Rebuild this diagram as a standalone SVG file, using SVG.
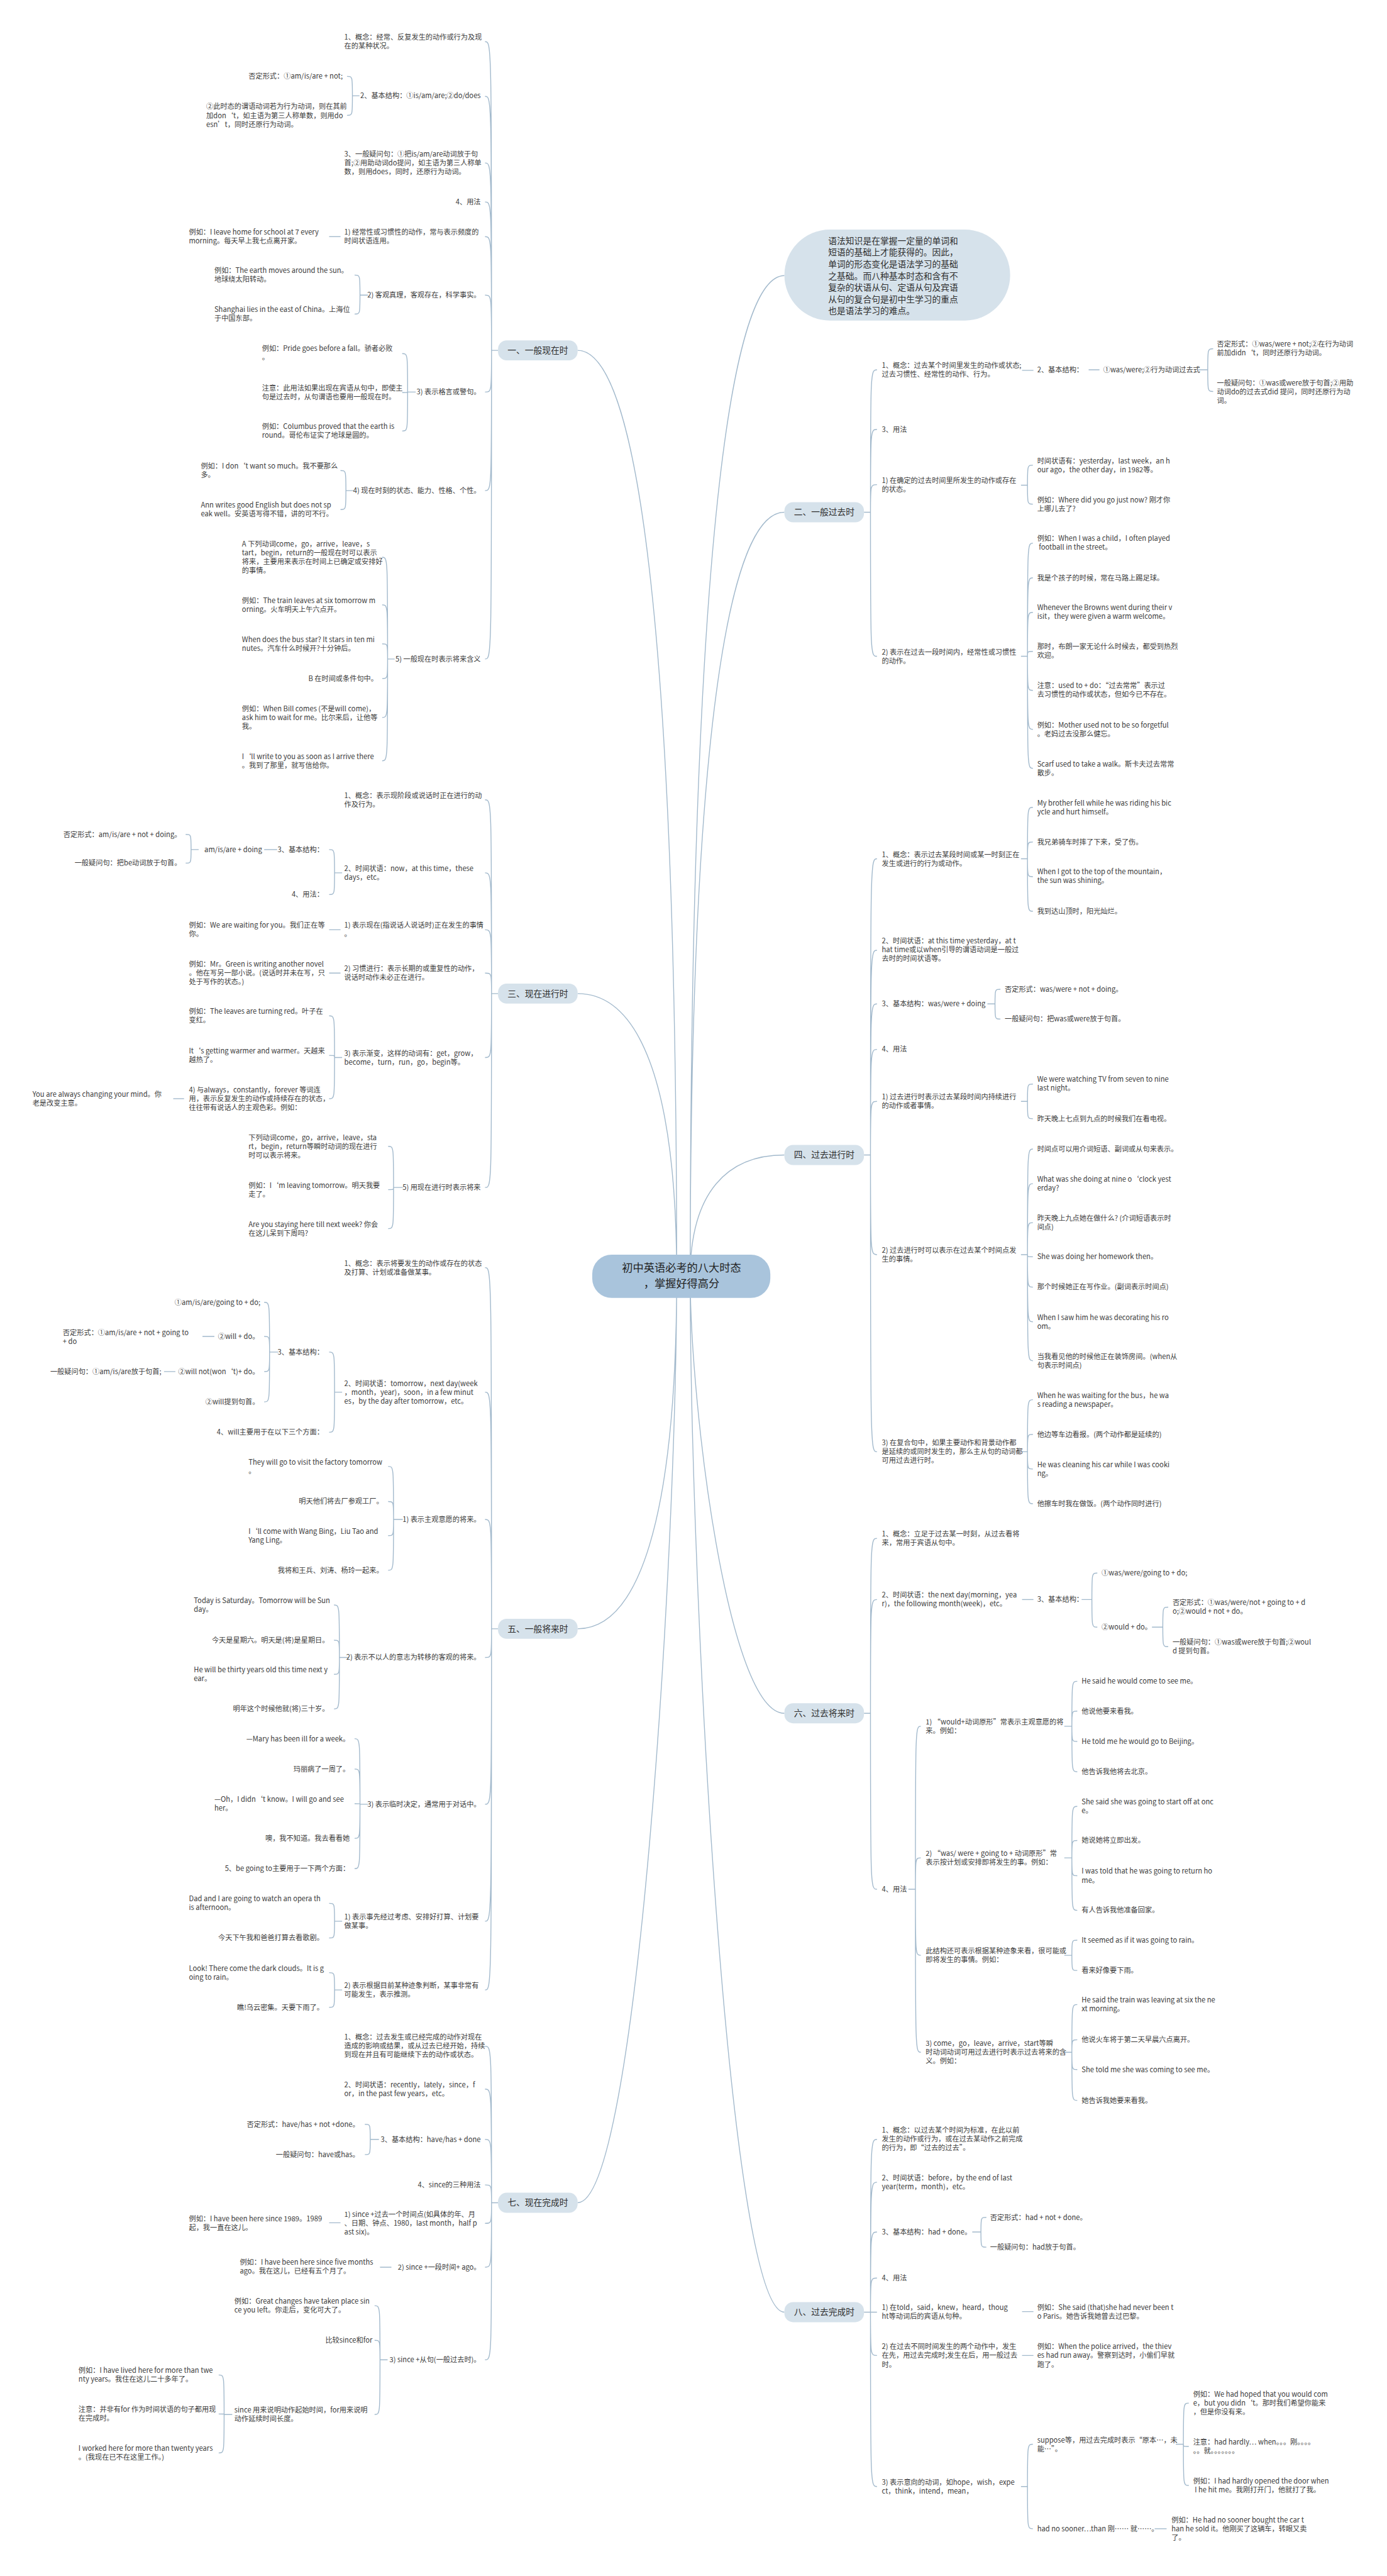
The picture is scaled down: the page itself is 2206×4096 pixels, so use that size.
<svg xmlns="http://www.w3.org/2000/svg" width="2206" height="4096" viewBox="0 0 2206 4096">
<style>
text{font-family:"Noto Sans CJK SC","Liberation Sans",sans-serif;font-size:13px;fill:#3b3b3b}
.e{text-anchor:end}
.h{font-size:16px;fill:#2f2f2f;text-anchor:middle}
.ct{font-size:20px;fill:#222;text-anchor:middle}
.in{font-size:16px;fill:#2f2f2f}
.c{fill:none;stroke:#a2b9cc;stroke-width:1.6}
.n{fill:#d6e2eb}
.cn{fill:#a9c4dc}
</style>
<rect width="2206" height="4096" fill="#ffffff"/>
<g transform="scale(0.861)">
<g id="connectors" class="c">
<path d="M1250,2357C1250,1160 1177,647 1067,647M1250,2357C1250,1992 1177,1835 1067,1835M1250,2357C1250,2813 1177,3008 1067,3008M1250,2357C1250,2870 1177,4068 1067,4068"/>
<path d="M1275,2357C1275,1063 1345,509 1449,509M1275,2357C1275,1369 1345,946 1449,946M1275,2357C1275,2200 1345,2133 1449,2133M1275,2357C1275,2599 1345,3164 1449,3164M1275,2357C1275,2931 1345,4270 1449,4270"/>
<path d="M920,647H908C908,77 908,77 896,77M920,647H908C908,178 908,178 896,178M920,647H908C908,301 908,301 896,301M920,647H908C908,373 908,373 896,373M920,647H908C908,437 908,437 896,437M920,647H908C908,545 908,545 896,545M920,647H908C908,724 908,724 896,724M920,647H908C908,906 908,906 896,906M920,647H908C908,1217 908,1217 896,1217"/>
<path d="M920,1835H908C908,1477 908,1477 896,1477M920,1835H908C908,1612 908,1612 896,1612M920,1835H908C908,1717 908,1717 896,1717M920,1835H908C908,1797 908,1797 896,1797M920,1835H908C908,1953 908,1953 896,1953M920,1835H908C908,2193 908,2193 896,2193"/>
<path d="M920,3008H908C908,2341 908,2341 896,2341M920,3008H908C908,2571 908,2571 896,2571M920,3008H908C908,2806 908,2806 896,2806M920,3008H908C908,3061 908,3061 896,3061M920,3008H908C908,3332 908,3332 896,3332M920,3008H908C908,3548 908,3548 896,3548M920,3008H908C908,3675 908,3675 896,3675"/>
<path d="M920,4068H908C908,3779 908,3779 896,3779M920,4068H908C908,3858 908,3858 896,3858M920,4068H908C908,3951 908,3951 896,3951M920,4068H908C908,4035 908,4035 896,4035M920,4068H908C908,4106 908,4106 896,4106M920,4068H908C908,4187 908,4187 896,4187M920,4068H908C908,4358 908,4358 896,4358"/>
<path d="M664,177H651C651,141 651,141 641,141M664,177H651C651,213 651,213 641,213"/>
<path d="M629,437H608"/>
<path d="M680,545H665C665,508 665,508 655,508M680,545H665C665,580 665,580 655,580"/>
<path d="M768,724H753C753,653 753,653 743,653M768,724H753C753,725 753,725 743,725M768,724H753C753,796 753,796 743,796"/>
<path d="M654,906H639C639,869 639,869 629,869M654,906H639C639,941 639,941 629,941"/>
<path d="M729,1217H716C716,1029 716,1029 706,1029M729,1217H716C716,1117 716,1117 706,1117M729,1217H716C716,1189 716,1189 706,1189M729,1217H716C716,1253 716,1253 706,1253M729,1217H716C716,1325 716,1325 706,1325M729,1217H716C716,1405 716,1405 706,1405"/>
<path d="M632,1612H618C618,1569 618,1569 608,1569M632,1612H618C618,1652 618,1652 608,1652"/>
<path d="M512,1569H488"/>
<path d="M367,1569H353C353,1541 353,1541 343,1541M367,1569H353C353,1594 353,1594 343,1594"/>
<path d="M629,1717H608M629,1797H608"/>
<path d="M632,1953H618C618,1876 618,1876 608,1876M632,1953H618C618,1949 618,1949 608,1949M632,1953H618C618,2029 618,2029 608,2029"/>
<path d="M340,2029H320"/>
<path d="M744,2193H727C727,2117 727,2117 717,2117M744,2193H727C727,2197 727,2197 717,2197M744,2193H727C727,2269 727,2269 717,2269"/>
<path d="M632,2571H618C618,2497 618,2497 608,2497M632,2571H618C618,2645 618,2645 608,2645"/>
<path d="M514,2497H498C498,2405 498,2405 488,2405M514,2497H498C498,2468 498,2468 488,2468M514,2497H498C498,2533 498,2533 488,2533M514,2497H498C498,2589 498,2589 488,2589"/>
<path d="M396,2468H374M324,2533H303"/>
<path d="M744,2806H727C727,2708 727,2708 717,2708M744,2806H727C727,2773 727,2773 717,2773M744,2806H727C727,2836 727,2836 717,2836M744,2806H727C727,2900 727,2900 717,2900"/>
<path d="M643,3061H627C627,2964 627,2964 617,2964M643,3061H627C627,3029 627,3029 617,3029M643,3061H627C627,3092 627,3092 617,3092M643,3061H627C627,3156 627,3156 617,3156"/>
<path d="M680,3332H665C665,3211 665,3211 655,3211M680,3332H665C665,3267 665,3267 655,3267M680,3332H665C665,3331 665,3331 655,3331M680,3332H665C665,3395 665,3395 655,3395M680,3332H665C665,3451 665,3451 655,3451"/>
<path d="M632,3548H618C618,3515 618,3515 608,3515M632,3548H618C618,3579 618,3579 608,3579"/>
<path d="M632,3675H618C618,3643 618,3643 608,3643M632,3675H618C618,3707 618,3707 608,3707"/>
<path d="M700,3951H684C684,3923 684,3923 674,3923M700,3951H684C684,3979 684,3979 674,3979"/>
<path d="M629,4105H608M723,4187H702"/>
<path d="M716,4358H702C702,4258 702,4258 692,4258M716,4358H702C702,4322 702,4322 692,4322M716,4358H702C702,4459 702,4459 692,4459"/>
<path d="M429,4459H414C414,4386 414,4386 404,4386M429,4459H414C414,4458 414,4458 404,4458M429,4459H414C414,4530 414,4530 404,4530"/>
<path d="M1596,946H1608C1608,683 1608,683 1620,683M1596,946H1608C1608,793 1608,793 1620,793M1596,946H1608C1608,895 1608,895 1620,895M1596,946H1608C1608,1212 1608,1212 1620,1212"/>
<path d="M1596,2133H1608C1608,1586 1608,1586 1620,1586M1596,2133H1608C1608,1755 1608,1755 1620,1755M1596,2133H1608C1608,1854 1608,1854 1620,1854M1596,2133H1608C1608,1938 1608,1938 1620,1938M1596,2133H1608C1608,2034 1608,2034 1620,2034M1596,2133H1608C1608,2317 1608,2317 1620,2317M1596,2133H1608C1608,2681 1608,2681 1620,2681"/>
<path d="M1596,3164H1608C1608,2841 1608,2841 1620,2841M1596,3164H1608C1608,2954 1608,2954 1620,2954M1596,3164H1608C1608,3489 1608,3489 1620,3489"/>
<path d="M1596,4270H1608C1608,3951 1608,3951 1620,3951M1596,4270H1608C1608,4030 1608,4030 1620,4030M1596,4270H1608C1608,4122 1608,4122 1620,4122M1596,4270H1608C1608,4207 1608,4207 1620,4207M1596,4270H1608C1608,4270 1608,4270 1620,4270M1596,4270H1608C1608,4350 1608,4350 1620,4350M1596,4270H1608C1608,4592 1608,4592 1620,4592"/>
<path d="M1888,684H1909M2011,683H2031"/>
<path d="M2214,683H2231C2231,644 2231,644 2241,644M2214,683H2231C2231,723 2231,723 2241,723"/>
<path d="M1886,896H1898C1898,859 1898,859 1908,859M1886,896H1898C1898,931 1898,931 1908,931"/>
<path d="M1886,1212H1898C1898,1003 1898,1003 1908,1003M1886,1212H1898C1898,1067 1898,1067 1908,1067M1886,1212H1898C1898,1131 1898,1131 1908,1131M1886,1212H1898C1898,1203 1898,1203 1908,1203M1886,1212H1898C1898,1275 1898,1275 1908,1275M1886,1212H1898C1898,1347 1898,1347 1908,1347M1886,1212H1898C1898,1419 1898,1419 1908,1419"/>
<path d="M1886,1586H1898C1898,1491 1898,1491 1908,1491M1886,1586H1898C1898,1555 1898,1555 1908,1555M1886,1586H1898C1898,1619 1898,1619 1908,1619M1886,1586H1898C1898,1683 1898,1683 1908,1683"/>
<path d="M1824,1854H1838C1838,1827 1838,1827 1848,1827M1824,1854H1838C1838,1882 1838,1882 1848,1882"/>
<path d="M1886,2034H1898C1898,2002 1898,2002 1908,2002M1886,2034H1898C1898,2066 1898,2066 1908,2066"/>
<path d="M1886,2317H1898C1898,2122 1898,2122 1908,2122M1886,2317H1898C1898,2186 1898,2186 1908,2186M1886,2317H1898C1898,2258 1898,2258 1908,2258M1886,2317H1898C1898,2321 1898,2321 1908,2321M1886,2317H1898C1898,2377 1898,2377 1908,2377M1886,2317H1898C1898,2441 1898,2441 1908,2441M1886,2317H1898C1898,2513 1898,2513 1908,2513"/>
<path d="M1886,2681H1898C1898,2585 1898,2585 1908,2585M1886,2681H1898C1898,2649 1898,2649 1908,2649M1886,2681H1898C1898,2713 1898,2713 1908,2713M1886,2681H1898C1898,2777 1898,2777 1908,2777"/>
<path d="M1888,2954H1909"/>
<path d="M1998,2954H2017C2017,2905 2017,2905 2027,2905M1998,2954H2017C2017,3005 2017,3005 2027,3005"/>
<path d="M2128,3005H2148C2148,2968 2148,2968 2158,2968M2128,3005H2148C2148,3041 2148,3041 2158,3041"/>
<path d="M1678,3489H1691C1691,3188 1691,3188 1701,3188M1678,3489H1691C1691,3431 1691,3431 1701,3431M1678,3489H1691C1691,3611 1691,3611 1701,3611M1678,3489H1691C1691,3790 1691,3790 1701,3790"/>
<path d="M1966,3188H1980C1980,3105 1980,3105 1990,3105M1966,3188H1980C1980,3160 1980,3160 1990,3160M1966,3188H1980C1980,3216 1980,3216 1990,3216M1966,3188H1980C1980,3272 1980,3272 1990,3272"/>
<path d="M1966,3431H1980C1980,3336 1980,3336 1990,3336M1966,3431H1980C1980,3399 1980,3399 1990,3399M1966,3431H1980C1980,3464 1980,3464 1990,3464M1966,3431H1980C1980,3528 1980,3528 1990,3528"/>
<path d="M1966,3611H1980C1980,3583 1980,3583 1990,3583M1966,3611H1980C1980,3639 1980,3639 1990,3639"/>
<path d="M1966,3790H1980C1980,3702 1980,3702 1990,3702M1966,3790H1980C1980,3767 1980,3767 1990,3767M1966,3790H1980C1980,3822 1980,3822 1990,3822M1966,3790H1980C1980,3879 1980,3879 1990,3879"/>
<path d="M1796,4122H1812C1812,4095 1812,4095 1822,4095M1796,4122H1812C1812,4150 1812,4150 1822,4150"/>
<path d="M1888,4269H1909M1888,4350H1909"/>
<path d="M1886,4592H1898C1898,4514 1898,4514 1908,4514M1886,4592H1898C1898,4670 1898,4670 1908,4670"/>
<path d="M2172,4514H2186C2186,4438 2186,4438 2196,4438M2172,4514H2186C2186,4518 2186,4518 2196,4518M2172,4514H2186C2186,4590 2186,4590 2196,4590"/>
<path d="M2133,4670H2155"/>
</g>
<g id="center"><rect class="cn" x="1094" y="2317" width="329" height="80" rx="36"/><text class="ct" x="1259" y="2349">初中英语必考的八大时态</text><text class="ct" x="1259" y="2378">，掌握好得高分</text></g>
<g id="intro"><rect class="n" x="1449" y="424" width="417" height="168" rx="84"/><text class="in" x="1530" y="450.5">语法知识是在掌握一定量的单词和<tspan x="1530" dy="21.6">短语的基础上才能获得的。因此，</tspan><tspan x="1530" dy="21.6">单词的形态变化是语法学习的基础</tspan><tspan x="1530" dy="21.6">之基础。而八种基本时态和含有不</tspan><tspan x="1530" dy="21.6">复杂的状语从句、定语从句及宾语</tspan><tspan x="1530" dy="21.6">从句的复合句是初中生学习的重点</tspan><tspan x="1530" dy="21.6">也是语法学习的难点。</tspan></text></g>
<g id="t1"><rect class="n" x="920" y="628.5" width="147" height="37" rx="16"/><text class="h" x="993.5" y="652.5">一、一般现在时</text></g>
<g id="t3"><rect class="n" x="920" y="1816.5" width="147" height="37" rx="16"/><text class="h" x="993.5" y="1840.5">三、现在进行时</text></g>
<g id="t5"><rect class="n" x="920" y="2989.5" width="147" height="37" rx="16"/><text class="h" x="993.5" y="3013.5">五、一般将来时</text></g>
<g id="t7"><rect class="n" x="920" y="4049.5" width="147" height="37" rx="16"/><text class="h" x="993.5" y="4073.5">七、现在完成时</text></g>
<g id="t2"><rect class="n" x="1449" y="927.5" width="147" height="37" rx="16"/><text class="h" x="1522.5" y="951.5">二、一般过去时</text></g>
<g id="t4"><rect class="n" x="1449" y="2114.5" width="147" height="37" rx="16"/><text class="h" x="1522.5" y="2138.5">四、过去进行时</text></g>
<g id="t6"><rect class="n" x="1449" y="3145.5" width="147" height="37" rx="16"/><text class="h" x="1522.5" y="3169.5">六、过去将来时</text></g>
<g id="t8"><rect class="n" x="1449" y="4251.5" width="147" height="37" rx="16"/><text class="h" x="1522.5" y="4275.5">八、过去完成时</text></g>

<g id="a1"><text x="636" y="73.5">1、概念：经常、反复发生的动作或行为及现<tspan x="636" dy="16.3">在的某种状况。</tspan></text></g>
<g id="a2"><text class="e" x="888" y="181.5">2、基本结构：①is/am/are;②do/does</text></g>
<g id="a2a"><text class="e" x="633" y="145.5">否定形式：①am/is/are + not;</text></g>
<g id="a2b"><text x="381" y="201.5">②此时态的谓语动词若为行为动词，则在其前<tspan x="381" dy="16.3">加don‘t，如主语为第三人称单数，则用do</tspan><tspan x="381" dy="16.3">esn’t，同时还原行为动词。</tspan></text></g>
<g id="a3"><text x="636" y="289.5">3、一般疑问句：①把is/am/are动词放于句<tspan x="636" dy="16.3">首;②用助动词do提问，如主语为第三人称单</tspan><tspan x="636" dy="16.3">数，则用does，同时，还原行为动词。</tspan></text></g>
<g id="a4"><text class="e" x="888" y="377.5">4、用法</text></g>
<g id="a5"><text x="636" y="433.5">1) 经常性或习惯性的动作，常与表示频度的<tspan x="636" dy="16.3">时间状语连用。</tspan></text></g>
<g id="a5a"><text x="349" y="433.5">例如：I leave home for school at 7 every<tspan x="349" dy="16.3">morning。每天早上我七点离开家。</tspan></text></g>
<g id="a6"><text class="e" x="888" y="549.5">2) 客观真理，客观存在，科学事实。</text></g>
<g id="a6a"><text x="396" y="504.5">例如：The earth moves around the sun。<tspan x="396" dy="16.3">地球绕太阳转动。</tspan></text></g>
<g id="a6b"><text x="396" y="576.5">Shanghai lies in the east of China。上海位<tspan x="396" dy="16.3">于中国东部。</tspan></text></g>
<g id="a7"><text class="e" x="888" y="728.5">3) 表示格言或警句。</text></g>
<g id="a7a"><text x="484" y="648.5">例如：Pride goes before a fall。骄者必败<tspan x="484" dy="16.3">。</tspan></text></g>
<g id="a7b"><text x="484" y="721.5">注意：此用法如果出现在宾语从句中，即使主<tspan x="484" dy="16.3">句是过去时，从句谓语也要用一般现在时。</tspan></text></g>
<g id="a7c"><text x="484" y="792.5">例如：Columbus proved that the earth is<tspan x="484" dy="16.3">round。哥伦布证实了地球是圆的。</tspan></text></g>
<g id="a8"><text class="e" x="888" y="910.5">4) 现在时刻的状态、能力、性格、个性。</text></g>
<g id="a8a"><text x="371" y="865.5">例如：I don‘t want so much。我不要那么<tspan x="371" dy="16.3">多。</tspan></text></g>
<g id="a8b"><text x="371" y="937.5">Ann writes good English but does not sp<tspan x="371" dy="16.3">eak well。安英语写得不错，讲的可不行。</tspan></text></g>
<g id="a9"><text class="e" x="888" y="1221.5">5) 一般现在时表示将来含义</text></g>
<g id="a9a"><text x="447" y="1009.5">A 下列动词come，go，arrive，leave，s<tspan x="447" dy="16.3">tart，begin，return的一般现在时可以表示</tspan><tspan x="447" dy="16.3">将来，主要用来表示在时间上已确定或安排好</tspan><tspan x="447" dy="16.3">的事情。</tspan></text></g>
<g id="a9b"><text x="447" y="1113.5">例如：The train leaves at six tomorrow m<tspan x="447" dy="16.3">orning。火车明天上午六点开。</tspan></text></g>
<g id="a9c"><text x="447" y="1185.5">When does the bus star? It stars in ten mi<tspan x="447" dy="16.3">nutes。汽车什么时候开?十分钟后。</tspan></text></g>
<g id="a9d"><text class="e" x="698" y="1257.5">B 在时间或条件句中。</text></g>
<g id="a9e"><text x="447" y="1313.5">例如：When Bill comes (不是will come)，<tspan x="447" dy="16.3">ask him to wait for me。比尔来后，让他等</tspan><tspan x="447" dy="16.3">我。</tspan></text></g>
<g id="a9f"><text x="447" y="1401.5">I‘ll write to you as soon as I arrive there<tspan x="447" dy="16.3">。我到了那里，就写信给你。</tspan></text></g>

<g id="b1"><text x="636" y="1473.5">1、概念：表示现阶段或说话时正在进行的动<tspan x="636" dy="16.3">作及行为。</tspan></text></g>
<g id="b2"><text x="636" y="1608.5">2、时间状语：now，at this time，these<tspan x="636" dy="16.3">days，etc。</tspan></text></g>
<g id="b2a"><text class="e" x="598" y="1573.5">3、基本结构：</text></g>
<g id="b2a1"><text class="e" x="484" y="1573.5">am/is/are + doing</text></g>
<g id="b2a1a"><text class="e" x="335" y="1545.5">否定形式：am/is/are + not + doing。</text></g>
<g id="b2a1b"><text class="e" x="335" y="1598.5">一般疑问句：把be动词放于句首。</text></g>
<g id="b2b"><text class="e" x="598" y="1656.5">4、用法：</text></g>
<g id="b3"><text x="636" y="1713.5">1) 表示现在(指说话人说话时)正在发生的事情<tspan x="636" dy="16.3">。</tspan></text></g>
<g id="b3a"><text x="349" y="1713.5">例如：We are waiting for you。我们正在等<tspan x="349" dy="16.3">你。</tspan></text></g>
<g id="b4"><text x="636" y="1793.5">2) 习惯进行：表示长期的或重复性的动作，<tspan x="636" dy="16.3">说话时动作未必正在进行。</tspan></text></g>
<g id="b4a"><text x="349" y="1785.5">例如：Mr。Green is writing another novel<tspan x="349" dy="16.3">。他在写另一部小说。(说话时并未在写，只</tspan><tspan x="349" dy="16.3">处于写作的状态。)</tspan></text></g>
<g id="b5"><text x="636" y="1949.5">3) 表示渐变，这样的动词有：get，grow，<tspan x="636" dy="16.3">become，turn，run，go，begin等。</tspan></text></g>
<g id="b5a"><text x="349" y="1872.5">例如：The leaves are turning red。叶子在<tspan x="349" dy="16.3">变红。</tspan></text></g>
<g id="b5b"><text x="349" y="1945.5">It‘s getting warmer and warmer。天越来<tspan x="349" dy="16.3">越热了。</tspan></text></g>
<g id="b5c"><text x="349" y="2017.5">4) 与always，constantly，forever 等词连<tspan x="349" dy="16.3">用，表示反复发生的动作或持续存在的状态，</tspan><tspan x="349" dy="16.3">往往带有说话人的主观色彩。例如：</tspan></text></g>
<g id="b5c1"><text x="60" y="2025.5">You are always changing your mind。你<tspan x="60" dy="16.3">老是改变主意。</tspan></text></g>
<g id="b6"><text class="e" x="888" y="2197.5">5) 用现在进行时表示将来</text></g>
<g id="b6a"><text x="459" y="2105.5">下列动词come，go，arrive，leave，sta<tspan x="459" dy="16.3">rt，begin，return等瞬时动词的现在进行</tspan><tspan x="459" dy="16.3">时可以表示将来。</tspan></text></g>
<g id="b6b"><text x="459" y="2193.5">例如：I‘m leaving tomorrow。明天我要<tspan x="459" dy="16.3">走了。</tspan></text></g>
<g id="b6c"><text x="459" y="2265.5">Are you staying here till next week? 你会<tspan x="459" dy="16.3">在这儿呆到下周吗?</tspan></text></g>

<g id="c1"><text x="636" y="2337.5">1、概念：表示将要发生的动作或存在的状态<tspan x="636" dy="16.3">及打算、计划或准备做某事。</tspan></text></g>
<g id="c2"><text x="636" y="2559.5">2、时间状语：tomorrow，next day(week<tspan x="636" dy="16.3">，month，year)，soon，in a few minut</tspan><tspan x="636" dy="16.3">es，by the day after tomorrow，etc。</tspan></text></g>
<g id="c2a"><text class="e" x="598" y="2501.5">3、基本结构：</text></g>
<g id="c2a1"><text class="e" x="481" y="2409.5">①am/is/are/going to + do;</text></g>
<g id="c2a2"><text class="e" x="479" y="2472.5">②will + do。</text></g>
<g id="c2a2a"><text x="116" y="2465.5">否定形式：①am/is/are + not + going to<tspan x="116" dy="16.3">+ do</tspan></text></g>
<g id="c2a3"><text class="e" x="479" y="2537.5">②will not(won‘t)+ do。</text></g>
<g id="c2a3a"><text class="e" x="298" y="2537.5">一般疑问句：①am/is/are放于句首;</text></g>
<g id="c2a4"><text class="e" x="479" y="2593.5">②will提到句首。</text></g>
<g id="c2b"><text class="e" x="598" y="2649.5">4、will主要用于在以下三个方面：</text></g>
<g id="c3"><text class="e" x="888" y="2810.5">1) 表示主观意愿的将来。</text></g>
<g id="c3a"><text x="459" y="2704.5">They will go to visit the factory tomorrow<tspan x="459" dy="16.3">。</tspan></text></g>
<g id="c3b"><text class="e" x="708" y="2777.5">明天他们将去厂参观工厂。</text></g>
<g id="c3c"><text x="459" y="2832.5">I‘ll come with Wang Bing，Liu Tao and<tspan x="459" dy="16.3">Yang Ling。</tspan></text></g>
<g id="c3d"><text class="e" x="708" y="2904.5">我将和王兵、刘涛、杨玲一起来。</text></g>
<g id="c4"><text class="e" x="888" y="3065.5">2) 表示不以人的意志为转移的客观的将来。</text></g>
<g id="c4a"><text x="358" y="2960.5">Today is Saturday。Tomorrow will be Sun<tspan x="358" dy="16.3">day。</tspan></text></g>
<g id="c4b"><text class="e" x="608" y="3033.5">今天是星期六。明天是(将)是星期日。</text></g>
<g id="c4c"><text x="358" y="3088.5">He will be thirty years old this time next y<tspan x="358" dy="16.3">ear。</tspan></text></g>
<g id="c4d"><text class="e" x="608" y="3160.5">明年这个时候他就(将)三十岁。</text></g>
<g id="c5"><text class="e" x="888" y="3336.5">3) 表示临时决定，通常用于对话中。</text></g>
<g id="c5a"><text class="e" x="646" y="3215.5">—Mary has been ill for a week。</text></g>
<g id="c5b"><text class="e" x="646" y="3271.5">玛丽病了一周了。</text></g>
<g id="c5c"><text x="396" y="3327.5">—Oh，I didn‘t know。I will go and see<tspan x="396" dy="16.3">her。</tspan></text></g>
<g id="c5d"><text class="e" x="646" y="3399.5">噢，我不知道。我去看看她</text></g>
<g id="c5e"><text class="e" x="646" y="3455.5">5、be going to主要用于一下两个方面：</text></g>
<g id="c6"><text x="636" y="3544.5">1) 表示事先经过考虑、安排好打算、计划要<tspan x="636" dy="16.3">做某事。</tspan></text></g>
<g id="c6a"><text x="349" y="3511.5">Dad and I are going to watch an opera th<tspan x="349" dy="16.3">is afternoon。</tspan></text></g>
<g id="c6b"><text class="e" x="598" y="3583.5">今天下午我和爸爸打算去看歌剧。</text></g>
<g id="c7"><text x="636" y="3671.5">2) 表示根据目前某种迹象判断，某事非常有<tspan x="636" dy="16.3">可能发生，表示推测。</tspan></text></g>
<g id="c7a"><text x="349" y="3639.5">Look! There come the dark clouds。It is g<tspan x="349" dy="16.3">oing to rain。</tspan></text></g>
<g id="c7b"><text class="e" x="598" y="3711.5">瞧!乌云密集。天要下雨了。</text></g>

<g id="d1"><text x="636" y="3766.5">1、概念：过去发生或已经完成的动作对现在<tspan x="636" dy="16.3">造成的影响或结果，或从过去已经开始，持续</tspan><tspan x="636" dy="16.3">到现在并且有可能继续下去的动作或状态。</tspan></text></g>
<g id="d2"><text x="636" y="3854.5">2、时间状语：recently，lately，since，f<tspan x="636" dy="16.3">or，in the past few years，etc。</tspan></text></g>
<g id="d3"><text class="e" x="888" y="3955.5">3、基本结构：have/has + done</text></g>
<g id="d3a"><text class="e" x="664" y="3927.5">否定形式：have/has + not +done。</text></g>
<g id="d3b"><text class="e" x="664" y="3983.5">一般疑问句：have或has。</text></g>
<g id="d4"><text class="e" x="888" y="4039.5">4、since的三种用法</text></g>
<g id="d5"><text x="636" y="4094.5">1) since +过去一个时间点(如具体的年、月<tspan x="636" dy="16.3">、日期、钟点、1980，last month，half p</tspan><tspan x="636" dy="16.3">ast six)。</tspan></text></g>
<g id="d5a"><text x="349" y="4102.5">例如：I have been here since 1989。1989<tspan x="349" dy="16.3">起，我一直在这儿。</tspan></text></g>
<g id="d6"><text class="e" x="888" y="4191.5">2) since +一段时间+ ago。</text></g>
<g id="d6a"><text x="443" y="4182.5">例如：I have been here since five months<tspan x="443" dy="16.3">ago。我在这儿，已经有五个月了。</tspan></text></g>
<g id="d7"><text class="e" x="888" y="4362.5">3) since +从句(一般过去时)。</text></g>
<g id="d7a"><text x="433" y="4254.5">例如：Great changes have taken place sin<tspan x="433" dy="16.3">ce you left。你走后，变化可大了。</tspan></text></g>
<g id="d7b"><text class="e" x="688" y="4326.5">比较since和for</text></g>
<g id="d7c"><text x="433" y="4455.5">since 用来说明动作起始时间，for用来说明<tspan x="433" dy="16.3">动作延续时间长度。</tspan></text></g>
<g id="d7c1"><text x="145" y="4382.5">例如：I have lived here for more than twe<tspan x="145" dy="16.3">nty years。我住在这儿二十多年了。</tspan></text></g>
<g id="d7c2"><text x="145" y="4454.5">注意：并非有for 作为时间状语的句子都用现<tspan x="145" dy="16.3">在完成时。</tspan></text></g>
<g id="d7c3"><text x="145" y="4526.5">I worked here for more than twenty years<tspan x="145" dy="16.3">。(我现在已不在这里工作。)</tspan></text></g>

<g id="e1"><text x="1629" y="679.5">1、概念：过去某个时间里发生的动作或状态;<tspan x="1629" dy="16.3">过去习惯性、经常性的动作、行为。</tspan></text></g>
<g id="e1a"><text x="1916" y="687.5">2、基本结构：</text></g>
<g id="e1b"><text x="2038" y="687.5">①was/were;②行为动词过去式</text></g>
<g id="e1b1"><text x="2248" y="639.5">否定形式：①was/were + not;②在行为动词<tspan x="2248" dy="16.3">前加didn‘t，同时还原行为动词。</tspan></text></g>
<g id="e1b2"><text x="2248" y="711.5">一般疑问句：①was或were放于句首;②用助<tspan x="2248" dy="16.3">动词do的过去式did 提问，同时还原行为动</tspan><tspan x="2248" dy="16.3">词。</tspan></text></g>
<g id="e2"><text x="1629" y="797.5">3、用法</text></g>
<g id="e3"><text x="1629" y="891.5">1) 在确定的过去时间里所发生的动作或存在<tspan x="1629" dy="16.3">的状态。</tspan></text></g>
<g id="e3a"><text x="1916" y="855.5">时间状语有：yesterday，last week，an h<tspan x="1916" dy="16.3">our ago，the other day，in 1982等。</tspan></text></g>
<g id="e3b"><text x="1916" y="927.5">例如：Where did you go just now? 刚才你<tspan x="1916" dy="16.3">上哪儿去了?</tspan></text></g>
<g id="e4"><text x="1629" y="1208.5">2) 表示在过去一段时间内，经常性或习惯性<tspan x="1629" dy="16.3">的动作。</tspan></text></g>
<g id="e4a"><text x="1916" y="998.5">例如：When I was a child，I often played<tspan x="1916" dy="16.3"> football in the street。</tspan></text></g>
<g id="e4b"><text x="1916" y="1071.5">我是个孩子的时候，常在马路上踢足球。</text></g>
<g id="e4c"><text x="1916" y="1126.5">Whenever the Browns went during their v<tspan x="1916" dy="16.3">isit，they were given a warm welcome。</tspan></text></g>
<g id="e4d"><text x="1916" y="1198.5">那时，布朗一家无论什么时候去，都受到热烈<tspan x="1916" dy="16.3">欢迎。</tspan></text></g>
<g id="e4e"><text x="1916" y="1270.5">注意：used to + do：“过去常常”表示过<tspan x="1916" dy="16.3">去习惯性的动作或状态，但如今已不存在。</tspan></text></g>
<g id="e4f"><text x="1916" y="1343.5">例如：Mother used not to be so forgetful<tspan x="1916" dy="16.3">。老妈过去没那么健忘。</tspan></text></g>
<g id="e4g"><text x="1916" y="1415.5">Scarf used to take a walk。斯卡夫过去常常<tspan x="1916" dy="16.3">散步。</tspan></text></g>

<g id="f1"><text x="1629" y="1582.5">1、概念：表示过去某段时间或某一时刻正在<tspan x="1629" dy="16.3">发生或进行的行为或动作。</tspan></text></g>
<g id="f1a"><text x="1916" y="1487.5">My brother fell while he was riding his bic<tspan x="1916" dy="16.3">ycle and hurt himself。</tspan></text></g>
<g id="f1b"><text x="1916" y="1559.5">我兄弟骑车时摔了下来，受了伤。</text></g>
<g id="f1c"><text x="1916" y="1614.5">When I got to the top of the mountain，<tspan x="1916" dy="16.3">the sun was shining。</tspan></text></g>
<g id="f1d"><text x="1916" y="1687.5">我到达山顶时，阳光灿烂。</text></g>
<g id="f2"><text x="1629" y="1742.5">2、时间状语：at this time yesterday，at t<tspan x="1629" dy="16.3">hat time或以when引导的谓语动词是一般过</tspan><tspan x="1629" dy="16.3">去时的时间状语等。</tspan></text></g>
<g id="f3"><text x="1629" y="1858.5">3、基本结构：was/were + doing</text></g>
<g id="f3a"><text x="1856" y="1831.5">否定形式：was/were + not + doing。</text></g>
<g id="f3b"><text x="1856" y="1886.5">一般疑问句：把was或were放于句首。</text></g>
<g id="f4"><text x="1629" y="1942.5">4、用法</text></g>
<g id="f5"><text x="1629" y="2030.5">1) 过去进行时表示过去某段时间内持续进行<tspan x="1629" dy="16.3">的动作或者事情。</tspan></text></g>
<g id="f5a"><text x="1916" y="1997.5">We were watching TV from seven to nine<tspan x="1916" dy="16.3">last night。</tspan></text></g>
<g id="f5b"><text x="1916" y="2070.5">昨天晚上七点到九点的时候我们在看电视。</text></g>
<g id="f6"><text x="1629" y="2313.5">2) 过去进行时可以表示在过去某个时间点发<tspan x="1629" dy="16.3">生的事情。</tspan></text></g>
<g id="f6a"><text x="1916" y="2126.5">时间点可以用介词短语、副词或从句来表示。</text></g>
<g id="f6b"><text x="1916" y="2182.5">What was she doing at nine o‘clock yest<tspan x="1916" dy="16.3">erday?</tspan></text></g>
<g id="f6c"><text x="1916" y="2254.5">昨天晚上九点她在做什么? (介词短语表示时<tspan x="1916" dy="16.3">间点)</tspan></text></g>
<g id="f6d"><text x="1916" y="2325.5">She was doing her homework then。</text></g>
<g id="f6e"><text x="1916" y="2381.5">那个时候她正在写作业。(副词表示时间点)</text></g>
<g id="f6f"><text x="1916" y="2437.5">When I saw him he was decorating his ro<tspan x="1916" dy="16.3">om。</tspan></text></g>
<g id="f6g"><text x="1916" y="2509.5">当我看见他的时候他正在装饰房间。(when从<tspan x="1916" dy="16.3">句表示时间点)</tspan></text></g>
<g id="f7"><text x="1629" y="2668.5">3) 在复合句中，如果主要动作和背景动作都<tspan x="1629" dy="16.3">是延续的或同时发生的，那么主从句的动词都</tspan><tspan x="1629" dy="16.3">可用过去进行时。</tspan></text></g>
<g id="f7a"><text x="1916" y="2581.5">When he was waiting for the bus，he wa<tspan x="1916" dy="16.3">s reading a newspaper。</tspan></text></g>
<g id="f7b"><text x="1916" y="2653.5">他边等车边看报。(两个动作都是延续的)</text></g>
<g id="f7c"><text x="1916" y="2709.5">He was cleaning his car while I was cooki<tspan x="1916" dy="16.3">ng。</tspan></text></g>
<g id="f7d"><text x="1916" y="2781.5">他擦车时我在做饭。(两个动作同时进行)</text></g>

<g id="g1"><text x="1629" y="2837.5">1、概念：立足于过去某一时刻，从过去看将<tspan x="1629" dy="16.3">来，常用于宾语从句中。</tspan></text></g>
<g id="g2"><text x="1629" y="2950.5">2、时间状语：the next day(morning，yea<tspan x="1629" dy="16.3">r)，the following month(week)，etc。</tspan></text></g>
<g id="g2a"><text x="1916" y="2958.5">3、基本结构：</text></g>
<g id="g2a1"><text x="2035" y="2909.5">①was/were/going to + do;</text></g>
<g id="g2a2"><text x="2035" y="3009.5">②would + do。</text></g>
<g id="g2a2a"><text x="2166" y="2964.5">否定形式：①was/were/not + going to + d<tspan x="2166" dy="16.3">o;②would + not + do。</tspan></text></g>
<g id="g2a2b"><text x="2166" y="3037.5">一般疑问句：①was或were放于句首;②woul<tspan x="2166" dy="16.3">d 提到句首。</tspan></text></g>
<g id="g3"><text x="1629" y="3493.5">4、用法</text></g>
<g id="g3a"><text x="1710" y="3184.5">1) “would+动词原形”常表示主观意愿的将<tspan x="1710" dy="16.3">来。例如：</tspan></text></g>
<g id="g3a1"><text x="1998" y="3109.5">He said he would come to see me。</text></g>
<g id="g3a2"><text x="1998" y="3164.5">他说他要来看我。</text></g>
<g id="g3a3"><text x="1998" y="3220.5">He told me he would go to Beijing。</text></g>
<g id="g3a4"><text x="1998" y="3276.5">他告诉我他将去北京。</text></g>
<g id="g3b"><text x="1710" y="3427.5">2) “was/ were + going to + 动词原形”常<tspan x="1710" dy="16.3">表示按计划或安排即将发生的事。例如：</tspan></text></g>
<g id="g3b1"><text x="1998" y="3332.5">She said she was going to start off at onc<tspan x="1998" dy="16.3">e。</tspan></text></g>
<g id="g3b2"><text x="1998" y="3403.5">她说她将立即出发。</text></g>
<g id="g3b3"><text x="1998" y="3460.5">I was told that he was going to return ho<tspan x="1998" dy="16.3">me。</tspan></text></g>
<g id="g3b4"><text x="1998" y="3532.5">有人告诉我他准备回家。</text></g>
<g id="g3c"><text x="1710" y="3607.5">此结构还可表示根据某种迹象来看，很可能或<tspan x="1710" dy="16.3">即将发生的事情。例如：</tspan></text></g>
<g id="g3c1"><text x="1998" y="3587.5">It seemed as if it was going to rain。</text></g>
<g id="g3c2"><text x="1998" y="3643.5">看来好像要下雨。</text></g>
<g id="g3d"><text x="1710" y="3778.5">3) come，go，leave，arrive，start等瞬<tspan x="1710" dy="16.3">时动词动词可用过去进行时表示过去将来的含</tspan><tspan x="1710" dy="16.3">义。例如：</tspan></text></g>
<g id="g3d1"><text x="1998" y="3698.5">He said the train was leaving at six the ne<tspan x="1998" dy="16.3">xt morning。</tspan></text></g>
<g id="g3d2"><text x="1998" y="3771.5">他说火车将于第二天早晨六点离开。</text></g>
<g id="g3d3"><text x="1998" y="3826.5">She told me she was coming to see me。</text></g>
<g id="g3d4"><text x="1998" y="3883.5">她告诉我她要来看我。</text></g>

<g id="h1"><text x="1629" y="3938.5">1、概念：以过去某个时间为标准，在此以前<tspan x="1629" dy="16.3">发生的动作或行为，或在过去某动作之前完成</tspan><tspan x="1629" dy="16.3">的行为，即“过去的过去”。</tspan></text></g>
<g id="h2"><text x="1629" y="4026.5">2、时间状语：before，by the end of last<tspan x="1629" dy="16.3">year(term，month)，etc。</tspan></text></g>
<g id="h3"><text x="1629" y="4126.5">3、基本结构：had + done。</text></g>
<g id="h3a"><text x="1829" y="4099.5">否定形式：had + not + done。</text></g>
<g id="h3b"><text x="1829" y="4154.5">一般疑问句：had放于句首。</text></g>
<g id="h4"><text x="1629" y="4211.5">4、用法</text></g>
<g id="h5"><text x="1629" y="4266.5">1) 在told，said，knew，heard，thoug<tspan x="1629" dy="16.3">ht等动词后的宾语从句种。</tspan></text></g>
<g id="h5a"><text x="1916" y="4266.5">例如：She said (that)she had never been t<tspan x="1916" dy="16.3">o Paris。她告诉我她曾去过巴黎。</tspan></text></g>
<g id="h6"><text x="1629" y="4338.5">2) 在过去不同时间发生的两个动作中，发生<tspan x="1629" dy="16.3">在先，用过去完成时;发生在后，用一般过去</tspan><tspan x="1629" dy="16.3">时。</tspan></text></g>
<g id="h6a"><text x="1916" y="4338.5">例如：When the police arrived，the thiev<tspan x="1916" dy="16.3">es had run away。警察到达时，小偷们早就</tspan><tspan x="1916" dy="16.3">跑了。</tspan></text></g>
<g id="h7"><text x="1629" y="4588.5">3) 表示意向的动词，如hope，wish，expe<tspan x="1629" dy="16.3">ct，think，intend，mean，</tspan></text></g>
<g id="h7a"><text x="1916" y="4510.5">suppose等，用过去完成时表示“原本…，未<tspan x="1916" dy="16.3">能…”。</tspan></text></g>
<g id="h7a1"><text x="2204" y="4426.5">例如：We had hoped that you would com<tspan x="2204" dy="16.3">e，but you didn‘t。那时我们希望你能来</tspan><tspan x="2204" dy="16.3">，但是你没有来。</tspan></text></g>
<g id="h7a2"><text x="2204" y="4514.5">注意：had hardly… when。。。刚。。。。<tspan x="2204" dy="16.3">。。就。。。。。。。</tspan></text></g>
<g id="h7a3"><text x="2204" y="4586.5">例如：I had hardly opened the door when<tspan x="2204" dy="16.3"> I he hit me。我刚打开门，他就打了我。</tspan></text></g>
<g id="h7b"><text x="1916" y="4674.5">had no sooner…than 刚…… 就……。</text></g>
<g id="h7b1"><text x="2164" y="4658.5">例如：He had no sooner bought the car t<tspan x="2164" dy="16.3">han he sold it。他刚买了这辆车，转眼又卖</tspan><tspan x="2164" dy="16.3">了。</tspan></text></g>
</g>
</svg>
